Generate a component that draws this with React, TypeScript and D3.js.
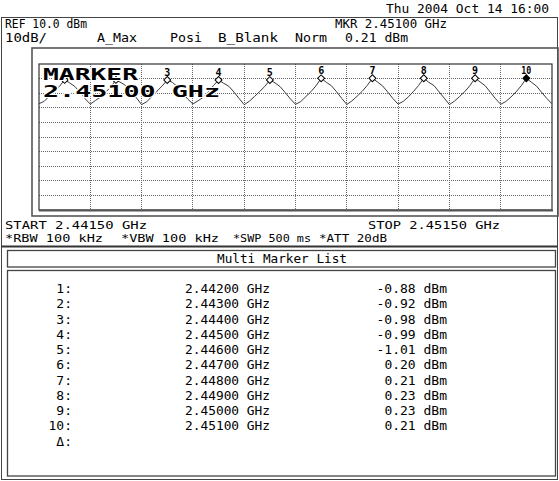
import React, { useEffect, useRef } from 'react';
import * as d3 from 'd3';

// sweep settings
const startGHz = 2.4415;
const stopGHz = 2.4515;
const refLevel = 10;
const dbPerDiv = 10;
const divisions = 10;

// multi marker list
const markerIds = ['1', '2', '3', '4', '5', '6', '7', '8', '9', '10'];
const markerFreqs = [2.442, 2.443, 2.444, 2.445, 2.446, 2.447, 2.448, 2.449, 2.45, 2.451];
const markerLevels = [-0.88, -0.92, -0.98, -0.99, -1.01, 0.2, 0.21, 0.23, 0.23, 0.21];

// trace in dBm, read every 0.1 MHz from START to STOP
const traceLevels = [
  -17.2, -15.6, -12.0, -8.8, -5.2, -0.88, -3.0, -5.4, -9.5, -13.8,
  -17.5, -15.0, -12.6, -9.3, -5.6, -0.92, -2.8, -5.0, -9.0, -13.2,
  -17.8, -15.9, -12.2, -8.6, -5.1, -0.98, -2.6, -5.6, -9.8, -14.0,
  -17.4, -15.2, -12.8, -9.1, -4.8, -0.99, -3.2, -5.2, -9.2, -13.6,
  -17.9, -15.5, -12.3, -8.9, -5.4, -1.01, -2.9, -5.5, -9.6, -13.9,
  -17.6, -15.8, -12.4, -9.0, -4.9, 0.2, -2.5, -4.9, -9.0, -13.5,
  -17.7, -15.3, -12.1, -8.7, -4.6, 0.21, -2.4, -5.1, -9.3, -13.7,
  -17.5, -15.6, -12.5, -8.8, -4.7, 0.23, -2.6, -4.8, -9.1, -13.4,
  -17.8, -15.4, -12.2, -8.9, -4.8, 0.23, -2.3, -5.0, -9.4, -13.8,
  -17.6, -15.7, -12.6, -9.1, -4.9, 0.21, -2.5, -5.2, -9.5, -13.6,
  -17.3,
];

const W = 559;
const H = 481;
const plot = { left: 39, right: 552, top: 64, bottom: 210 };
const mono = "'DejaVu Sans Mono', monospace";

const App = () => {
  const svgRef = useRef<SVGSVGElement>(null);

  useEffect(() => {
    const svg = d3.select(svgRef.current);
    svg.selectAll('*').remove();

    const x = d3.scaleLinear().domain([startGHz, stopGHz]).range([plot.left, plot.right]);
    const y = d3
      .scaleLinear()
      .domain([refLevel - divisions * dbPerDiv, refLevel])
      .range([plot.bottom, plot.top]);
    const step = (stopGHz - startGHz) / (traceLevels.length - 1);
    const ghz = (f: number) => `${f.toFixed(5)} GHz`;

    // small text with fixed width, like the instrument's bitmap font
    const txt = (s: string, tx: number, ty: number, len: number | null, anchor = 'start', size = 12) => {
      const t = svg
        .append('text')
        .attr('x', tx)
        .attr('y', ty)
        .attr('font-size', size)
        .attr('text-anchor', anchor)
        .text(s);
      if (len) t.attr('textLength', len).attr('lengthAdjust', 'spacingAndGlyphs');
      return t;
    };

    // frames
    svg.append('rect').attr('width', W).attr('height', H).attr('fill', '#fff');
    svg
      .append('rect')
      .attr('x', 1.5).attr('y', 17.5).attr('width', 556).attr('height', 462)
      .attr('fill', 'none').attr('stroke', '#444');
    svg
      .append('rect')
      .attr('x', 32).attr('y', 48).attr('width', 526).attr('height', 168)
      .attr('fill', 'none').attr('stroke', '#555').attr('stroke-width', 1.6);
    svg
      .append('line')
      .attr('x1', 1.5).attr('x2', 557.5).attr('y1', 246.5).attr('y2', 246.5)
      .attr('stroke', '#333').attr('stroke-width', 2);
    svg
      .append('rect')
      .attr('x', 7.5).attr('y', 250.5).attr('width', 548).attr('height', 16.5)
      .attr('fill', 'none').attr('stroke', '#444').attr('stroke-width', 1.3);
    svg
      .append('rect')
      .attr('x', 7.5).attr('y', 270.5).attr('width', 548).attr('height', 205.5)
      .attr('fill', 'none').attr('stroke', '#444').attr('stroke-width', 1.3);

    // header
    txt('Thu 2004 Oct 14 16:00', 386, 13, 163);
    txt(`REF ${refLevel.toFixed(1)} dBm`, 5, 28, 82);
    txt(`${dbPerDiv}dB/`, 5, 42, 42);
    txt('A_Max', 97, 42, 40);
    txt('Posi', 170, 42, 32);
    txt('B_Blank', 218, 42, 60);
    txt('Norm', 295, 42, 32);
    txt(`MKR ${ghz(markerFreqs[9])}`, 335, 28, 112);
    txt(`${markerLevels[9].toFixed(2)} dBm`, 345, 42, 63);

    // grid
    const grid = svg.append('g').attr('stroke', '#666').attr('stroke-dasharray', '1,1').attr('shape-rendering', 'crispEdges');
    d3.range(1, divisions).forEach((i) => {
      const gx = x(startGHz + ((stopGHz - startGHz) * i) / divisions);
      grid.append('line').attr('x1', gx).attr('x2', gx).attr('y1', plot.top).attr('y2', plot.bottom);
      const gy = y(refLevel - i * dbPerDiv);
      grid.append('line').attr('x1', plot.left).attr('x2', plot.right).attr('y1', gy).attr('y2', gy);
    });
    svg
      .append('rect')
      .attr('x', plot.left).attr('y', plot.top)
      .attr('width', plot.right - plot.left).attr('height', plot.bottom - plot.top)
      .attr('fill', 'none').attr('stroke', '#333').attr('stroke-width', 1.2);
    svg
      .append('line')
      .attr('x1', plot.left).attr('x2', plot.right + 1).attr('y1', plot.bottom + 0.5).attr('y2', plot.bottom + 0.5)
      .attr('stroke', '#555').attr('stroke-width', 2);

    // trace
    const line = d3
      .line<number>()
      .x((_, i) => x(startGHz + i * step))
      .y((d) => y(d));
    svg
      .append('path')
      .datum(traceLevels)
      .attr('d', line)
      .attr('fill', 'none')
      .attr('stroke', '#3a3a3a')
      .attr('stroke-width', 1);

    // markers (numbers under the big readout are covered by it)
    const readoutRight = 142;
    const diamond = d3.symbol().type(d3.symbolSquare).size(24);
    markerIds.forEach((id, i) => {
      const mx = x(markerFreqs[i]);
      const my = y(markerLevels[i]);
      const active = i === markerIds.length - 1;
      svg
        .append('path')
        .attr('d', diamond())
        .attr('transform', `translate(${mx},${my}) rotate(45)`)
        .attr('fill', active ? '#000' : '#fff')
        .attr('stroke', '#000')
        .attr('stroke-width', 1);
      if (mx > readoutRight) {
        txt(id, mx, my - 4.5, id.length > 1 ? 10 : null, 'middle', 10).attr('font-weight', 'bold');
      }
    });

    // big active marker readout
    const big = svg
      .append('g')
      .attr('font-size', 15)
      .attr('font-weight', 'bold')
      .attr('stroke', '#fff')
      .attr('stroke-width', 2)
      .attr('paint-order', 'stroke')
      .attr('fill', '#000');
    big.append('text').attr('x', 43).attr('y', 79.5).attr('textLength', 95).attr('lengthAdjust', 'spacingAndGlyphs').text('MARKER');
    big
      .append('text')
      .attr('x', 43).attr('y', 97).attr('textLength', 177).attr('lengthAdjust', 'spacingAndGlyphs')
      .text(ghz(markerFreqs[9]));

    // footer
    txt(`START ${ghz(startGHz)}`, 5, 229, 142, 'start', 11);
    txt(`STOP ${ghz(stopGHz)}`, 368, 229, 132, 'start', 11);
    txt('*RBW 100 kHz', 5, 242, 98, 'start', 11);
    txt('*VBW 100 kHz', 121, 242, 98, 'start', 11);
    txt('*SWP 500 ms', 233, 242, 78, 'start', 11);
    txt('*ATT 20dB', 319, 242, 68, 'start', 11);

    // marker list
    txt('Multi Marker List', 282, 263, 130, 'middle');
    markerIds.forEach((id, i) => {
      const ry = 293 + i * 15.25;
      txt(`${id}:`, 72, ry, null, 'end', 13);
      txt(ghz(markerFreqs[i]), 185, ry, 85, 'start', 13);
      txt(`${markerLevels[i].toFixed(2)} dBm`, 447, ry, null, 'end', 13);
    });
    txt('\u0394:', 72, 293 + markerIds.length * 15.25, null, 'end', 13);
  }, []);

  return (
    <svg
      ref={svgRef}
      width={W}
      height={H}
      fontFamily={mono}
      style={{ position: 'absolute', left: 0, top: 0, display: 'block' }}
    />
  );
};

export default App;
